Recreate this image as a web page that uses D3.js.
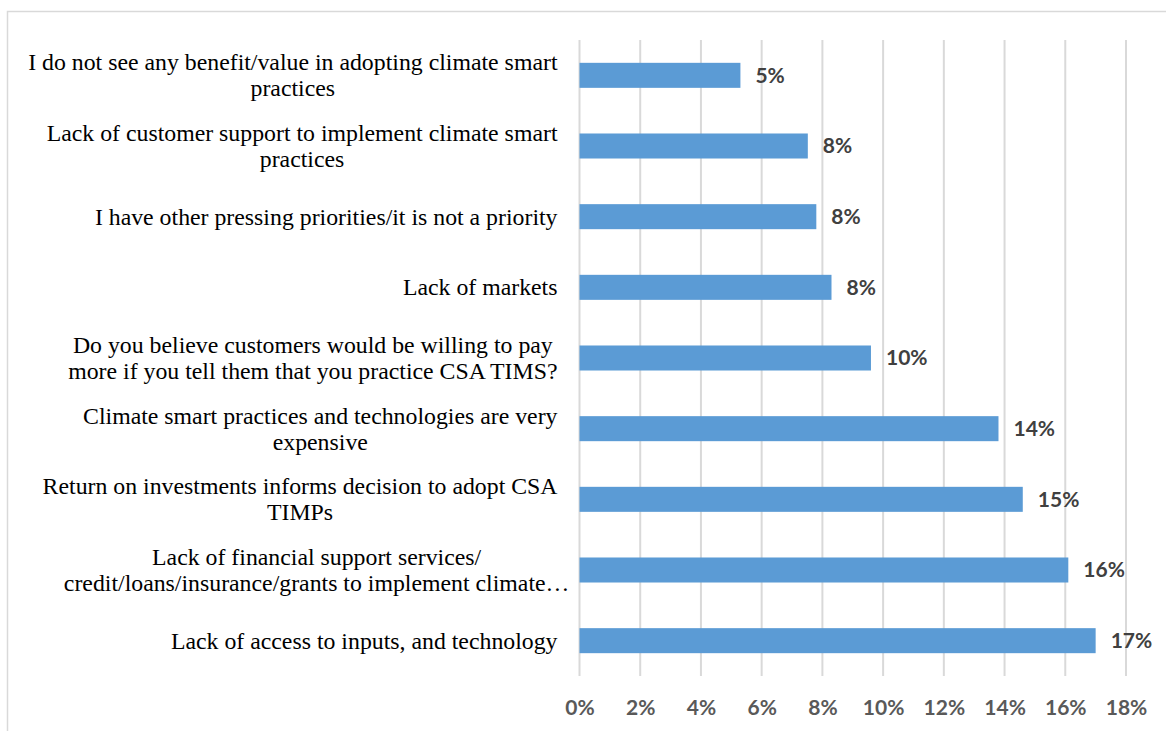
<!DOCTYPE html>
<html>
<head>
<meta charset="utf-8">
<script src="https://cdn.jsdelivr.net/npm/d3@7"></script>
<style>
  html, body { margin: 0; padding: 0; background: #ffffff; }
  svg { display: block; }
</style>
</head>
<body>
<svg id="chart" width="1166" height="731"></svg>
<script>
// Barriers to adopting climate smart practices (share of respondents, %)
const categories = [
  "I do not see any benefit/value in adopting climate smart practices",
  "Lack of customer support to implement climate smart practices",
  "I have other pressing priorities/it is not a priority",
  "Lack of markets",
  "Do you believe customers would be willing to pay more if you tell them that you practice CSA TIMS?",
  "Climate smart practices and technologies are very expensive",
  "Return on investments informs decision to adopt CSA TIMPs",
  "Lack of financial support services/ credit/loans/insurance/grants to implement climate…",
  "Lack of access to inputs, and technology"
];

// Category labels as they wrap on screen
const labelLines = [
  ["I do not see any benefit/value in adopting climate smart", "practices"],
  ["Lack of customer support to implement climate smart", "practices"],
  ["I have other pressing priorities/it is not a priority"],
  ["Lack of markets"],
  ["Do you believe customers would be willing to pay", "more if you tell them that you practice CSA TIMS?"],
  ["Climate smart practices and technologies are very", "expensive"],
  ["Return on investments informs decision to adopt CSA", "TIMPs"],
  ["Lack of financial support services/", "credit/loans/insurance/grants to implement climate…"],
  ["Lack of access to inputs, and technology"]
];

const values = [5.3, 7.52, 7.8, 8.3, 9.6, 13.8, 14.6, 16.1, 17.0];

const tickValues = [0, 2, 4, 6, 8, 10, 12, 14, 16, 18];

const svg = d3.select("#chart");
const W = 1166, H = 731;
const plot = { left: 579.5, right: 1126, top: 40, bottom: 676 };

// chart frame (extends past the visible page on right and bottom)
svg.append("rect")
  .attr("x", 7.5).attr("y", 11.5)
  .attr("width", W + 20).attr("height", H + 20)
  .attr("fill", "#ffffff")
  .attr("stroke", "#d9d9d9")
  .attr("stroke-width", 1.5);

const x = d3.scaleLinear().domain([0, 18]).range([plot.left, plot.right]);
const y = d3.scaleBand()
  .domain(categories)
  .range([plot.top, plot.bottom])
  .paddingInner(0.646)
  .paddingOuter(0.323);

// vertical gridlines
svg.append("g")
  .selectAll("line")
  .data(tickValues)
  .join("line")
  .attr("x1", d => x(d)).attr("x2", d => x(d))
  .attr("y1", plot.top).attr("y2", plot.bottom)
  .attr("stroke", "#d9d9d9")
  .attr("stroke-width", 2);

// x axis tick labels
const xAxis = d3.axisBottom(x)
  .tickValues(tickValues)
  .tickFormat(d => d + "%")
  .tickSize(0)
  .tickPadding(0);

const gx = svg.append("g")
  .attr("transform", `translate(0, ${plot.bottom + 32})`)
  .call(xAxis);
gx.select(".domain").remove();
gx.selectAll("text")
  .attr("dy", "0.35em")
  .attr("font-family", "Lato, 'Open Sans', sans-serif")
  .attr("font-weight", "bold")
  .attr("font-size", "21px")
  .attr("fill", "#595959");

// bars
svg.append("g")
  .selectAll("rect")
  .data(values)
  .join("rect")
  .attr("x", x(0))
  .attr("y", (d, i) => y(categories[i]))
  .attr("width", d => x(d) - x(0))
  .attr("height", y.bandwidth())
  .attr("fill", "#5b9bd5");

// value labels
svg.append("g")
  .selectAll("text")
  .data(values)
  .join("text")
  .attr("x", d => x(d) + 15)
  .attr("y", (d, i) => y(categories[i]) + y.bandwidth() / 2)
  .attr("dy", "0.35em")
  .attr("font-family", "Lato, 'Open Sans', sans-serif")
  .attr("font-weight", "bold")
  .attr("font-size", "21px")
  .attr("fill", "#404040")
  .text(d => d.toFixed(0) + "%");

// category labels: block right-aligned at the axis, lines centred in the block
const labelRight = plot.left - 22;
const lineH = 26;
const gl = svg.append("g")
  .attr("font-family", "'Liberation Serif', 'Times New Roman', serif")
  .attr("font-size", "23.8px")
  .attr("fill", "#000000");

labelLines.forEach((lines, i) => {
  const cy = y(categories[i]) + y.bandwidth() / 2;
  // measure each line (a trailing ellipsis is allowed to overhang)
  const widths = lines.map(t => {
    const probe = gl.append("text").text(t.replace(/…$/, ""));
    const w = probe.node().getComputedTextLength();
    probe.remove();
    return w;
  });
  const blockW = d3.max(widths);
  const cx = labelRight - blockW / 2;
  lines.forEach((t, j) => {
    gl.append("text")
      .attr("x", cx)
      .attr("y", cy + (j - (lines.length - 1) / 2) * lineH)
      .attr("dy", "0.33em")
      .attr("text-anchor", "middle")
      .text(t);
  });
});
</script>
</body>
</html>
